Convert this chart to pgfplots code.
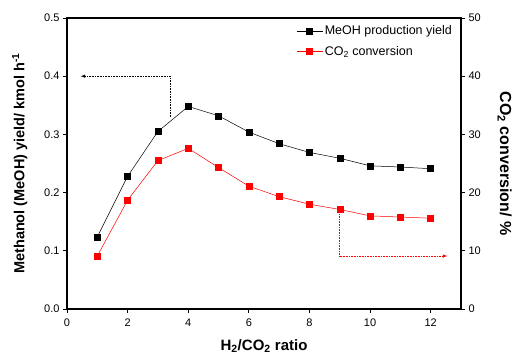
\documentclass[border=0pt]{standalone}
\usepackage{pgfplots}
\pgfplotsset{compat=1.18}
\usepackage{fontspec}
\setmainfont{Liberation Sans}
\usetikzlibrary{calc}
\begin{document}
\begin{tikzpicture}
\pgfplotsset{
  every axis/.append style={
    scale only axis, width=394pt, height=291pt,
    xmin=0, xmax=13,
    tick align=outside,
    axis line style={line width=1.1pt},
    major tick style={line width=0.8pt, black},
    major tick length=4pt,
    /pgf/number format/assume math mode=true,
    tick label style={font=\fontsize{11}{13}\selectfont},
  },
  legend image code/.code={\draw[mark repeat=2,mark phase=2,#1] plot coordinates {(0cm,0cm) (0.45cm,0cm) (0.9cm,0cm)};},
}
\begin{axis}[
  name=ax,
  ymin=0, ymax=0.5,
  xtick={0,2,...,12},
  ytick={0,0.1,...,0.5},
  yticklabel style={/pgf/number format/.cd, fixed, fixed zerofill, precision=1},
  xticklabel style={yshift=-2pt},
  xtick pos=bottom, ytick pos=left,
  xlabel={H\textsubscript{2}/CO\textsubscript{2} ratio},
  ylabel={Methanol (MeOH) yield/ kmol h\textsuperscript{-1}},
  xlabel style={yshift=-6pt, font=\fontsize{15}{17}\selectfont\bfseries},
  ylabel style={yshift=10pt, font=\fontsize{14.5}{17}\selectfont\bfseries},
]
\addplot[black, line width=0.5pt, mark=square*, mark size=3pt] coordinates {
(1,0.124) (2,0.228) (3,0.305) (4,0.348) (5,0.332) (6,0.304)
(7,0.284) (8,0.269) (9,0.259) (10,0.246) (11,0.244) (12,0.241)};
\draw[black, densely dotted, line width=0.6pt, -latex] (axis cs:3.4,0.330) -- (axis cs:3.4,0.4) -- (axis cs:0.45,0.4);
\end{axis}
\begin{axis}[
  ymin=0, ymax=50,
  ytick={0,10,...,50},
  axis y line*=right,
  hide x axis,
  ylabel={CO\textsubscript{2} conversion/ \%},
  ylabel style={rotate=180, yshift=10pt, font=\fontsize{16}{18}\selectfont\bfseries},
  legend style={at={(0.985,0.985)}, anchor=north east, draw=none, fill=none,
    font=\fontsize{12.5}{15}\selectfont, row sep=6pt, inner sep=1pt},
  legend cell align=left,
]
\addlegendimage{black, line width=0.5pt, mark=square*, mark size=3pt}
\addlegendentry{MeOH production yield}
\addplot[red, line width=0.5pt, mark=square*, mark size=3pt] coordinates {
(1,9.1) (2,18.7) (3,25.5) (4,27.6) (5,24.3) (6,21.1)
(7,19.3) (8,18.0) (9,17.1) (10,16.0) (11,15.8) (12,15.6)};
\addlegendentry{CO\textsubscript{2} conversion}
\draw[red, densely dotted, line width=0.6pt, -latex] (axis cs:9,16.3) -- (axis cs:9,9.1) -- (axis cs:12.55,9.1);
\end{axis}
\pgfresetboundingbox
\path ($(ax.south west)+(-67pt,-45pt)$) rectangle ($(ax.north east)+(54pt,18pt)$);
\end{tikzpicture}
\end{document}
